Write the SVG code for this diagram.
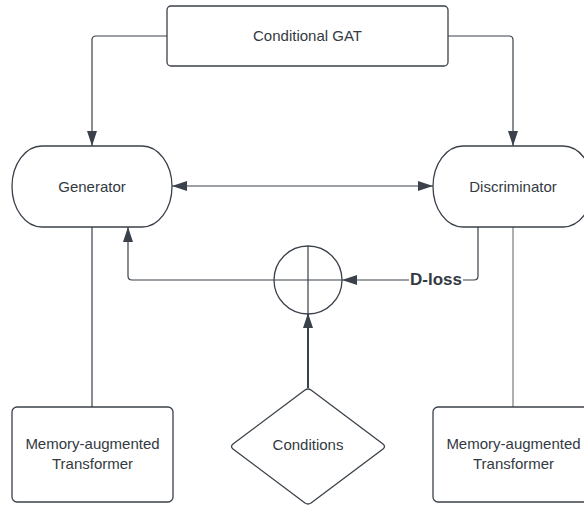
<svg xmlns="http://www.w3.org/2000/svg" width="584" height="506" viewBox="0 0 584 506">
  <style>
    .node { fill: #ffffff; stroke: #3a414a; stroke-width: 1.3; }
    .edge { fill: none; stroke: #3a414a; stroke-width: 1.2; }
    .thin { fill: none; stroke: #4a5058; stroke-width: 0.9; }
    .thick { fill: none; stroke: #3a414a; stroke-width: 2; }
    .label { font-family: "Liberation Sans", Arial, sans-serif; font-size: 15px; fill: #333a42; text-anchor: middle; dominant-baseline: central; }
    .bold { font-family: "Liberation Sans", Arial, sans-serif; font-size: 17px; font-weight: bold; fill: #333a42; text-anchor: middle; dominant-baseline: central; }
  </style>
  <defs>
    <marker id="arrow" viewBox="0 0 15 10" refX="15" refY="5" markerWidth="15" markerHeight="10" markerUnits="userSpaceOnUse" orient="auto-start-reverse">
      <path d="M0,0 L15,5 L0,10 Z" fill="#3a414a"/>
    </marker>
  </defs>
  <rect width="584" height="506" fill="#ffffff"/>

  <g id="connectors">
    <path class="edge" d="M167,36 H96 Q92,36 92,40 V146" marker-end="url(#arrow)"/>
    <path class="edge" d="M448,36 H509 Q513,36 513,40 V146" marker-end="url(#arrow)"/>
    <path class="edge" d="M172,186 H433" marker-start="url(#arrow)" marker-end="url(#arrow)"/>
    <path class="edge" d="M274,280 H132 Q128,280 128,276 V227" marker-end="url(#arrow)"/>
    <path class="edge" d="M409,280 H342" marker-end="url(#arrow)"/>
    <path class="edge" d="M463,280 H474 Q478,280 478,276 V227"/>
    <path class="thick" d="M308,388 V313" marker-end="url(#arrow)"/>
    <path class="edge" d="M92,227 V407"/>
    <path class="thin" d="M513,227 V407"/>
    <text class="bold" x="436" y="279">D-loss</text>
  </g>

  <g id="conditional-gat">
    <rect class="node" x="167" y="6" width="281" height="60" rx="4"/>
    <text class="label" x="307.5" y="35">Conditional GAT</text>
  </g>

  <g id="generator">
    <path class="node" d="M42,146 H142 A30,40.5 0 0 1 142,227 H42 A30,40.5 0 0 1 42,146 Z"/>
    <text class="label" x="92" y="186">Generator</text>
  </g>

  <g id="discriminator">
    <path class="node" d="M463,146 H563 A30,40.5 0 0 1 563,227 H463 A30,40.5 0 0 1 463,146 Z"/>
    <text class="label" x="513" y="186">Discriminator</text>
  </g>

  <g id="sum">
    <circle class="node" cx="308" cy="280" r="34"/>
    <path class="edge" d="M308,246 V314 M274,280 H342"/>
  </g>

  <g id="conditions">
    <path class="node" d="M305,390 Q308,388 311,390 L383,444 Q386,446.5 383,449 L311,503 Q308,505 305,503 L233,449 Q230,446.5 233,444 Z"/>
    <text class="label" x="308" y="444">Conditions</text>
  </g>

  <g id="memory-left">
    <rect class="node" x="12" y="407" width="161" height="95" rx="5"/>
    <text class="label" x="92.5" y="443">Memory-augmented</text>
    <text class="label" x="92.5" y="463">Transformer</text>
  </g>

  <g id="memory-right">
    <rect class="node" x="433" y="407" width="161" height="95" rx="5"/>
    <text class="label" x="513.5" y="443">Memory-augmented</text>
    <text class="label" x="513.5" y="463">Transformer</text>
  </g>
</svg>
